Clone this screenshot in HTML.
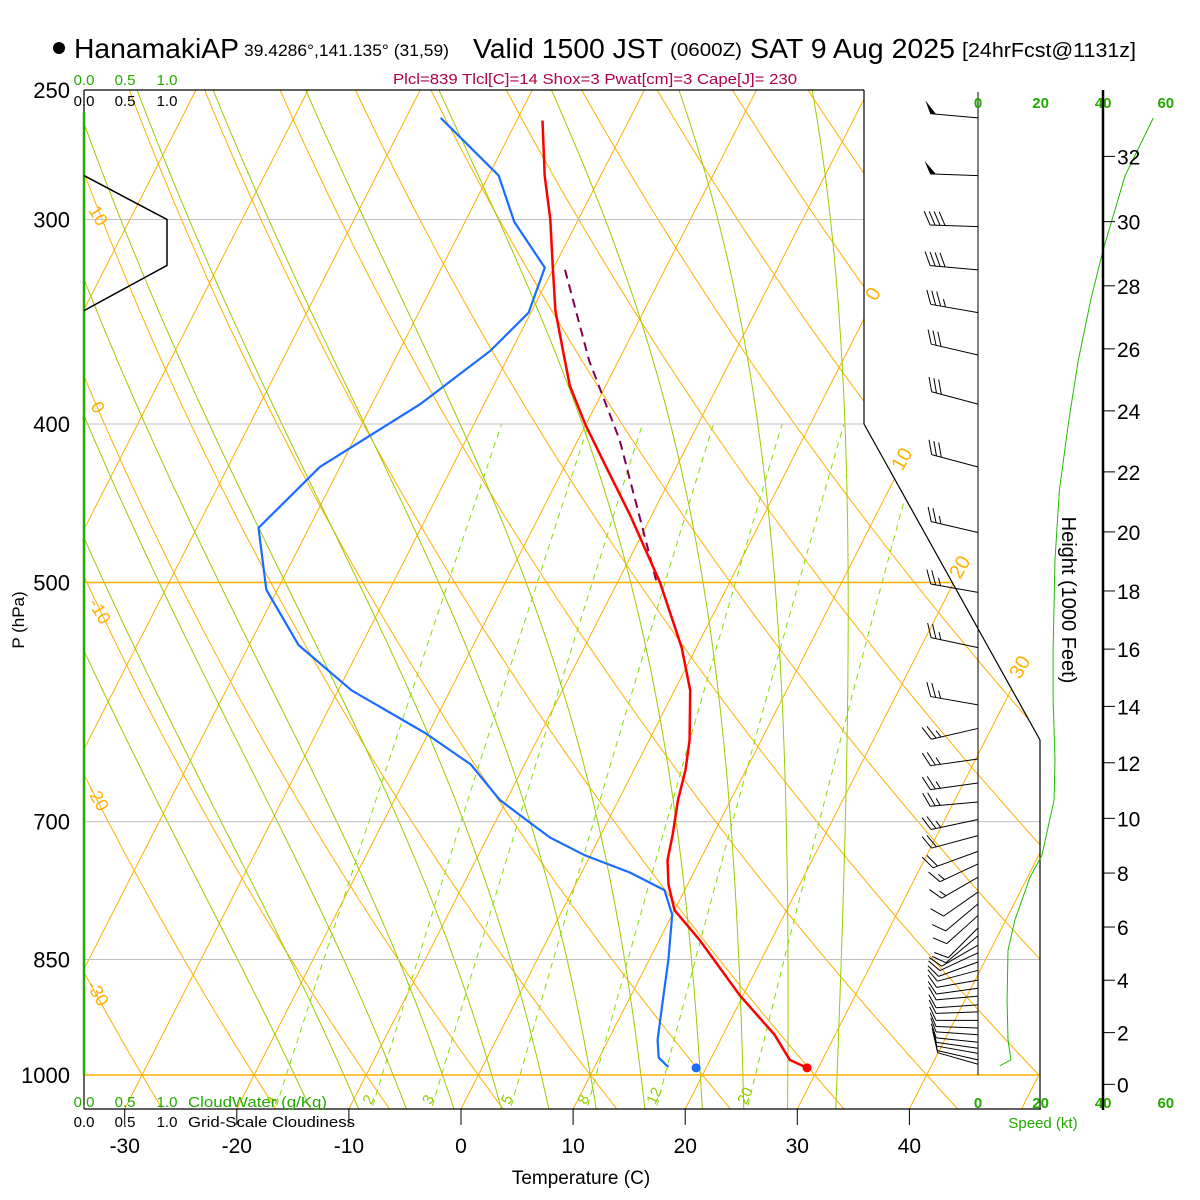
<!DOCTYPE html>
<html><head><meta charset="utf-8"><title>Skew-T HanamakiAP</title>
<style>
html,body{margin:0;padding:0;background:#fff;}
svg{display:block;font-family:"Liberation Sans",sans-serif;}
</style></head>
<body>
<svg id="chart" width="1200" height="1200" viewBox="0 0 1200 1200" xmlns="http://www.w3.org/2000/svg">
<defs><clipPath id="plotclip"><polygon points="84,90 864,90 864,424 1040,740 1040,1109 84,1109"/></clipPath></defs>
<rect x="0" y="0" width="1200" height="1200" fill="#fff"/>
<g id="bg" clip-path="url(#plotclip)"></g>
<g id="fg"></g>

<!-- title -->
<g>
<circle cx="59" cy="48" r="6" fill="#000"/>
<text x="74" y="58" font-size="28" textLength="165" lengthAdjust="spacingAndGlyphs">HanamakiAP</text>
<text x="244" y="56" font-size="17" textLength="205" lengthAdjust="spacingAndGlyphs">39.4286°,141.135° (31,59)</text>
<text x="473" y="58" font-size="28" textLength="190" lengthAdjust="spacingAndGlyphs">Valid 1500 JST</text>
<text x="670" y="56" font-size="18" textLength="72" lengthAdjust="spacingAndGlyphs">(0600Z)</text>
<text x="750" y="58" font-size="28" textLength="205" lengthAdjust="spacingAndGlyphs">SAT 9 Aug 2025</text>
<text x="962" y="57" font-size="20" textLength="174" lengthAdjust="spacingAndGlyphs">[24hrFcst@1131z]</text>
<text x="393" y="84" font-size="15" fill="#b0004a" textLength="404" lengthAdjust="spacingAndGlyphs">Plcl=839 Tlcl[C]=14 Shox=3 Pwat[cm]=3 Cape[J]= 230</text>
</g>

<!-- cloud axis labels -->
<g font-size="15" text-anchor="middle">
<text x="84" y="85" fill="#22aa00">0.0</text>
<text x="125" y="85" fill="#22aa00">0.5</text>
<text x="167" y="85" fill="#22aa00">1.0</text>
<text x="84" y="106" fill="#000">0.0</text>
<text x="125" y="106" fill="#000">0.5</text>
<text x="167" y="106" fill="#000">1.0</text>
<text x="84" y="1107" fill="#22aa00">0.0</text>
<text x="125" y="1107" fill="#22aa00">0.5</text>
<text x="167" y="1107" fill="#22aa00">1.0</text>
<text x="84" y="1127" fill="#000">0.0</text>
<text x="125" y="1127" fill="#000">0.5</text>
<text x="167" y="1127" fill="#000">1.0</text>
<text x="188" y="1107" fill="#22aa00" text-anchor="start" textLength="139" lengthAdjust="spacingAndGlyphs">CloudWater (g/Kg)</text>
<text x="188" y="1127" fill="#000" text-anchor="start" textLength="167" lengthAdjust="spacingAndGlyphs">Grid-Scale Cloudiness</text>
</g>

<text x="581" y="1184" font-size="19" text-anchor="middle">Temperature (C)</text>
<text transform="translate(24,620) rotate(-90)" font-size="17" text-anchor="middle">P (hPa)</text>
<text transform="translate(1062,600) rotate(90)" font-size="20" text-anchor="middle">Height (1000 Feet)</text>
<text x="1043" y="1128" font-size="15" fill="#22aa00" text-anchor="middle">Speed (kt)</text>

<!-- orange adiabat / isotherm labels -->
<g font-size="18" fill="#ffb000">
<text transform="translate(88,210) rotate(60)">10</text>
<text transform="translate(90,406) rotate(60)">0</text>
<text transform="translate(88,603) rotate(60)">-10</text>
<text transform="translate(86,790) rotate(60)">-20</text>
<text transform="translate(86,985) rotate(60)">-30</text>
<text transform="translate(876,302) rotate(-60)" font-size="20">0</text>
<text transform="translate(902,472) rotate(-60)" font-size="20">10</text>
<text transform="translate(960,580) rotate(-60)" font-size="20">20</text>
<text transform="translate(1020,680) rotate(-60)" font-size="20">30</text>
</g>

<script>
// ---------- data ----------
const tempP = [261,282,300,320,341,360,379,400,424,455,500,548,582,624,651,679,713,739,765,793,827,894,945,979,990];
const tempC = [-37.7,-35.0,-32.5,-30.2,-27.9,-25.5,-23.2,-20.1,-16.4,-11.9,-6.2,-1.3,1.4,3.6,4.6,5.3,6.4,7.1,8.3,10.0,13.6,19.7,24.6,27.1,29.0];
const dewP = [260,282,301,321,342,361,389,425,463,505,546,582,618,646,679,698,716,734,752,771,798,850,913,952,976,989];
const dewC = [-46.9,-39.1,-35.6,-30.8,-30.2,-31.9,-35.7,-41.8,-44.5,-41.0,-35.6,-28.8,-20.3,-14.8,-10.6,-7.4,-4.4,-0.5,4.3,8.2,10.0,11.7,13.4,14.4,15.3,16.6];
const sfcP = 990, sfcT = 29.0, sfcTd = 19.1;
const parcelP = [322,366,409,502];
const parcelC = [-28.9,-22.6,-16.3,-6.3];
const speedP = [260,282,313,336,366,398,439,484,550,590,642,679,734,757,804,839,900,952,979,987];
const speedKt = [56,47,40,36,32,29,26,24.6,24,24,24.6,24.3,20.4,16.6,11.8,9.6,9.3,9.6,10.5,7];
const windP = [260,282,303,322,342,363,389,425,466,507,548,594,614,641,663,681,698,714,730,743,757,773,786,799,813,822,833,842,853,863,875,885,895,906,915,926,936,945,955,963,970,979,985];
const windDir = [275,272,272,275,280,283,285,285,283,280,282,280,257,262,262,265,258,255,250,245,240,235,230,228,225,230,240,245,250,255,260,262,265,266,268,270,272,274,276,278,280,283,286];
const windKt = [50,50,40,40,35,30,30,30,25,25,25,25,25,25,25,25,25,20,20,15,15,10,10,10,10,10,10,10,10,10,10,10,10,10,10,10,10,10,10,10,10,10,10];
const cloudP = [282,300,320,341];
const cloudFrac = [0,1,1,0];
const isoTemps = [-120,-110,-100,-90,-80,-70,-60,-50,-40,-30,-20,-10,0,10,20,30,40,50];
const thetaC = [-50,-40,-30,-20,-10,0,10,20,30,40,50,60,70,80,90,100,110,120,130,140,150];
const moistT = [-16.4,-12,-7.6,-3.2,1.2,5.6,10,14.5,19.8,23.6,27.6,32];
const mixRatio = [1,2,3,5,8,12,20];
const mixLabels = ["1","2","3","5","8","12","20"];
const pLevels = [250,300,400,500,700,850,1000];
const pLabels = ["250","300","400","500","700","850","1000"];
const tTicks = [-30,-20,-10,0,10,20,30,40];
const tTickLabels = ["-30","-20","-10","0","10","20","30","40"];
const heightK = [0,2,4,6,8,10,12,14,16,18,20,22,24,26,28,30,32];
const speedTicks = [0,20,40,60];

// ---------- axes ----------
const LN4 = Math.log(4);
function yP(p){ return 1075 - 985*Math.log(1000/p)/LN4; }
function xT(T,p){ return 461 + 11.21*T + 0.51*(1109 - yP(p)); }
function xBottom(T){ return 461 + 11.21*T; }
function xSpd(k){ return 978 + k*3.13; }
function xCloud(f){ return 84 + f*83; }
function hToP(hk){ return 1013.25*Math.pow(1-6.8756e-6*hk*1000,5.2559); }

const NS = "http://www.w3.org/2000/svg";
const bg = document.getElementById('bg');
const fg = document.getElementById('fg');
function mk(tag, attrs, parent){
  const e = document.createElementNS(NS, tag);
  for (const k in attrs) e.setAttribute(k, attrs[k]);
  parent.appendChild(e);
  return e;
}
function pathD(pts){ return pts.map((q,i)=>(i?'L':'M')+q[0].toFixed(1)+','+q[1].toFixed(1)).join(''); }
const plevs = []; for (let p=1060; p>=245; p-=5) plevs.push(p);

// pressure lines
pLevels.forEach((p,i)=>{
  const y = yP(p);
  let x2 = 864, col = '#c0c0c0';
  if (p===500){ x2 = 864 + (y-424)/316*176; col='#ffb000'; }
  if (p>=700){ x2 = 1040; }
  if (p===1000) col='#ffb000';
  if (p===250){ col='#000'; }
  const l = mk('line',{x1:84,y1:y,x2:x2,y2:y,stroke:col,'stroke-width':p===500||p===1000?1.5:1},fg);
  
  
  const t = mk('text',{x:70,y:y+8,'font-size':22,'text-anchor':'end'},fg);
  t.textContent = pLabels[i];
  
  
});

// isotherms
isoTemps.forEach(T=>{
  const pts = plevs.map(p=>[xT(T,p),yP(p)]);
  const e = mk('path',{d:pathD(pts),fill:'none',stroke:'#ffb000','stroke-width':1},bg);
  
  
});
// dry adiabats
thetaC.forEach(th=>{
  const pts = plevs.map(p=>[xT((th+273.15)*Math.pow(p/1000,0.286)-273.15,p),yP(p)]);
  const e = mk('path',{d:pathD(pts),fill:'none',stroke:'#ffb000','stroke-width':1},bg);
  
  
});
// moist adiabats
function dTdp(T,p){
  const Tc=T-273.15; const es=6.112*Math.exp(17.67*Tc/(Tc+243.5)); const rs=0.622*es/(p-es);
  const Rd=287, cp=1005, Lv=2.5e6;
  return (Rd*T+Lv*rs)/(p*(cp+Lv*Lv*rs*0.622/(Rd*T*T)));
}
function moistLine(T0){
  const up=[], dn=[];
  let T=T0+273.15;
  for (let p=1000; p>=245; p-=5){ up.push([xT(T-273.15,p),yP(p)]); const k1=dTdp(T,p); const k2=dTdp(T-5*k1,p-5); T -= 2.5*(k1+k2); }
  T=T0+273.15;
  for (let p=1000; p<=1060; p+=5){ dn.unshift([xT(T-273.15,p),yP(p)]); const k1=dTdp(T,p); T += 5*k1; }
  return dn.concat(up);
}
moistT.forEach(T0=>{
  const e = mk('path',{d:pathD(moistLine(T0)),fill:'none',stroke:'#99cc00','stroke-width':1},bg);
  
  
});
// mixing ratio lines
function tdFromW(w,p){ const e=(w/1000)*p/(0.622+w/1000); const l=Math.log(e/6.112); return 243.5*l/(17.67-l); }
mixRatio.forEach((w,i)=>{
  const pts=[]; for (let p=1060;p>=400;p-=5) pts.push([xT(tdFromW(w,p),p),yP(p)]);
  const e = mk('path',{d:pathD(pts),fill:'none',stroke:'#88dd00','stroke-width':1,'stroke-dasharray':'6,5'},bg);
  
  
  const lx = xT(tdFromW(w,1032),1032), ly = yP(1032);
  const t = mk('text',{transform:`translate(${lx-4},${ly+8}) rotate(-65)`,'font-size':15,fill:'#99cc00'},bg);
  t.textContent = mixLabels[i];
  
  
});

// frame
[[84,90,864,90],[864,90,864,424],[864,424,1040,740],[1040,740,1040,1109],[84,1109,1041,1109],[84,90,84,1109]].forEach(s=>{
  const l = mk('line',{x1:s[0],y1:s[1],x2:s[2],y2:s[3],stroke:'#000','stroke-width':1.2},fg);
  
  
});
const cw = mk('line',{x1:84,y1:112,x2:84,y2:1075,stroke:'#22aa00','stroke-width':2.5},fg);



// temperature ticks
tTicks.forEach((T,i)=>{
  const x = xBottom(T);
  const l = mk('line',{x1:x,y1:1109,x2:x,y2:1125,stroke:'#000','stroke-width':1},fg);
  
  
  const t = mk('text',{x:x,y:1153,'font-size':21,'text-anchor':'middle'},fg);
  t.textContent = tTickLabels[i];
  
  
});

// cloudiness
const cpts = cloudP.map((p,i)=>[xCloud(cloudFrac[i]),yP(p)]);
const cl = mk('path',{d:pathD(cpts),fill:'none',stroke:'#000','stroke-width':1.5},fg);



// parcel
const pp = mk('path',{d:pathD(parcelP.map((p,i)=>[xT(parcelC[i],p),yP(p)])),fill:'none',stroke:'#800050','stroke-width':2,'stroke-dasharray':'9,6'},fg);


// dewpoint
const dl = mk('path',{d:pathD(dewP.map((p,i)=>[xT(dewC[i],p),yP(p)])),fill:'none',stroke:'#1a6cff','stroke-width':2.2},fg);


// temperature
const tl = mk('path',{d:pathD(tempP.map((p,i)=>[xT(tempC[i],p),yP(p)])),fill:'none',stroke:'#ff0000','stroke-width':2.5},fg);


const sd = mk('circle',{cx:xT(sfcTd,sfcP),cy:yP(sfcP),r:4.5,fill:'#1a6cff'},fg);


const st = mk('circle',{cx:xT(sfcT,sfcP),cy:yP(sfcP),r:4.5,fill:'#ff0000'},fg);



// wind staff and speed axis
const ws = mk('line',{x1:978,y1:92,x2:978,y2:1075,stroke:'#000','stroke-width':1},fg);


speedTicks.forEach(k=>{
  [108,1108].forEach(yy=>{
    const t = mk('text',{x:xSpd(k),y:yy,'font-size':15,'font-weight':'bold',fill:'#22aa00','text-anchor':'middle'},fg);
    t.textContent = String(k);
    
    
  });
});
const sp = mk('path',{d:pathD(speedP.map((p,i)=>[xSpd(speedKt[i]),yP(p)])),fill:'none',stroke:'#22bb00','stroke-width':1},fg);



// wind barbs
windP.forEach((p,i)=>{
  const y0 = yP(p), x0 = 978;
  const a = windDir[i]*Math.PI/180;
  const ux = Math.sin(a), uy = -Math.cos(a);
  const L = windKt[i]>=20 ? 48 : 42;
  const tx = x0+ux*L, ty = y0+uy*L;
  const g = mk('g',{},fg);
  
  
  mk('line',{x1:x0,y1:y0,x2:tx,y2:ty,stroke:'#000','stroke-width':1},g);
  // feather direction: rotate shaft by 65deg
  const c=Math.cos(65*Math.PI/180), s=Math.sin(65*Math.PI/180);
  const fx = ux*c - uy*s, fy = ux*s + uy*c;
  let spd = windKt[i], d = 0;
  while (spd >= 50){
    const bx=tx-ux*d, by=ty-uy*d;
    mk('polygon',{points:`${bx},${by} ${bx+fx*14},${by+fy*14} ${bx-ux*6},${by-uy*6}`,fill:'#000'},g);
    spd-=50; d+=8;
  }
  while (spd >= 10){
    const bx=tx-ux*d, by=ty-uy*d;
    mk('line',{x1:bx,y1:by,x2:bx+fx*15,y2:by+fy*15,stroke:'#000','stroke-width':1},g);
    spd-=10; d+=5;
  }
  if (spd >= 5){
    const bx=tx-ux*d, by=ty-uy*d;
    mk('line',{x1:bx,y1:by,x2:bx+fx*8,y2:by+fy*8,stroke:'#000','stroke-width':1},g);
  }
});

// height axis
const ha = mk('line',{x1:1103,y1:90,x2:1103,y2:1110,stroke:'#000','stroke-width':2.5},fg);


heightK.forEach(h=>{
  const y = yP(hToP(h));
  const l = mk('line',{x1:1103,y1:y,x2:1115,y2:y,stroke:'#000','stroke-width':1},fg);
  
  
  const t = mk('text',{x:1117,y:y+8,'font-size':21},fg);
  t.textContent = String(h);
  
  
});
</script>
</svg>
</body></html>
